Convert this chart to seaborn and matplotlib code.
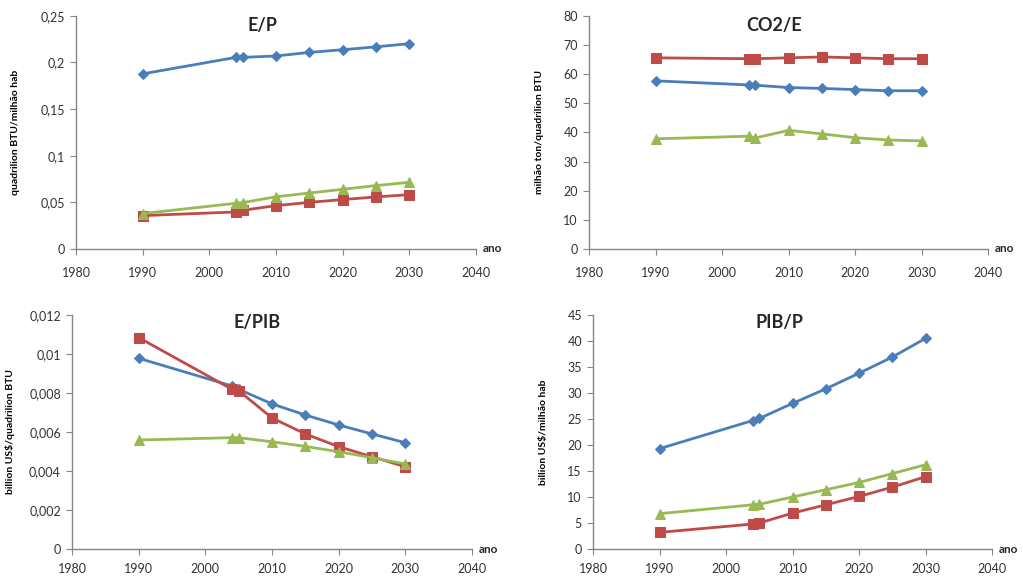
import numpy as np
import pandas as pd
import matplotlib
matplotlib.use('Agg')
import matplotlib.pyplot as plt
from matplotlib.ticker import FuncFormatter, MultipleLocator
import seaborn as sns

# Dados
anos = [1990, 2004, 2005, 2010, 2015, 2020, 2025, 2030]

ep_azul = [0.1878, 0.2055, 0.2055, 0.207, 0.2108, 0.2137, 0.2168, 0.2202]
ep_vermelho = [0.0358, 0.0397, 0.0415, 0.0465, 0.050, 0.053, 0.0558, 0.0583]
ep_verde = [0.038, 0.049, 0.0497, 0.056, 0.060, 0.064, 0.068, 0.0715]

co2_azul = [57.7, 56.3, 56.2, 55.4, 55.1, 54.7, 54.3, 54.3]
co2_vermelho = [65.6, 65.3, 65.3, 65.6, 65.9, 65.6, 65.3, 65.3]
co2_verde = [37.8, 38.7, 38.1, 40.7, 39.5, 38.2, 37.4, 37.1]

epib_azul = [0.00978, 0.00836, 0.00819, 0.00744, 0.00687, 0.00636, 0.0059, 0.00545]
epib_vermelho = [0.01084, 0.00819, 0.00812, 0.00672, 0.0059, 0.00525, 0.00473, 0.00422]
epib_verde = [0.00559, 0.00571, 0.00571, 0.0055, 0.00526, 0.00499, 0.00468, 0.00436]

pibp_azul = [19.3, 24.7, 25.1, 28.0, 30.8, 33.8, 36.9, 40.5]
pibp_vermelho = [3.2, 4.8, 5.0, 6.9, 8.5, 10.1, 11.9, 13.9]
pibp_verde = [6.8, 8.5, 8.6, 10.0, 11.4, 12.8, 14.5, 16.2]

titulos = ['E/P', 'CO2/E', 'E/PIB', 'PIB/P']
ylabels = ['quadrilion BTU/milhão hab', 'milhão ton/quadrilion BTU',
           'billion US$/quadrilion BTU', 'billion US$/milhão hab']

sns.set_style('white')
plt.rcParams['font.family'] = ['Lato', 'DejaVu Sans']

cores = {'azul': '#4A7EBB', 'vermelho': '#BE4B48', 'verde': '#98B954'}
marcadores = {'azul': 'D', 'vermelho': 's', 'verde': '^'}
tamanhos = {'azul': 5, 'vermelho': 7, 'verde': 7}

paineis = [
    dict(series={'azul': ep_azul, 'vermelho': ep_vermelho, 'verde': ep_verde},
         ymax=0.25, passo=0.05, pos=[0.0743, 0.5685, 0.391, 0.404],
         tx=0.465, ty=0.96, lx=-0.14, pad=9),
    dict(series={'vermelho': co2_vermelho, 'azul': co2_azul, 'verde': co2_verde},
         ymax=80, passo=10, pos=[0.5758, 0.5685, 0.390, 0.404],
         tx=0.4625, ty=0.96, lx=-0.1125, pad=9),
    dict(series={'azul': epib_azul, 'vermelho': epib_vermelho, 'verde': epib_verde},
         ymax=0.012, passo=0.002, pos=[0.0704, 0.0485, 0.391, 0.4056],
         tx=0.4625, ty=0.966, lx=-0.1425, pad=6),
    dict(series={'azul': pibp_azul, 'vermelho': pibp_vermelho, 'verde': pibp_verde},
         ymax=45, passo=5, pos=[0.5797, 0.0485, 0.390, 0.4056],
         tx=0.466, ty=0.966, lx=-0.1125, pad=6),
]


def virgula(v, pos):
    return '{:g}'.format(round(v, 6)).replace('.', ',')


fig = plt.figure(figsize=(10.23, 5.77), dpi=100)

for p, titulo, ylab in zip(paineis, titulos, ylabels):
    ax = fig.add_axes(p['pos'])
    for nome, vals in p['series'].items():
        df = pd.DataFrame({'ano': anos, 'valor': vals})
        sns.lineplot(data=df, x='ano', y='valor', ax=ax, color=cores[nome],
                     marker=marcadores[nome], markersize=tamanhos[nome],
                     markeredgecolor=cores[nome], linewidth=2)
    ax.set_xlim(1980, 2040)
    ax.set_ylim(0, p['ymax'])
    ax.xaxis.set_major_locator(MultipleLocator(10))
    ax.yaxis.set_major_locator(MultipleLocator(p['passo']))
    ax.yaxis.set_major_formatter(FuncFormatter(virgula))
    for s in ['top', 'right']:
        ax.spines[s].set_visible(False)
    for s in ['left', 'bottom']:
        ax.spines[s].set_color('#868686')
        ax.spines[s].set_linewidth(1)
    ax.tick_params(axis='both', which='major', direction='out', length=4,
                   color='#868686', labelsize=9, labelcolor='#333333',
                   left=True, bottom=True)
    ax.tick_params(axis='x', pad=p['pad'])
    ax.tick_params(axis='y', pad=4)
    ax.set_xlabel('')
    ax.set_ylabel(ylab, fontsize=7.5, fontweight='bold', color='black')
    ax.yaxis.set_label_coords(p['lx'], 0.5)
    ax.text(p['tx'], p['ty'], titulo, transform=ax.transAxes, ha='center',
            va='center', fontsize=13, fontweight='bold')
    ax.text(1.04, 0.0, 'ano', transform=ax.transAxes, ha='center',
            va='center', fontsize=8.5, fontweight='bold')

fig.savefig('out.png', dpi=100)
